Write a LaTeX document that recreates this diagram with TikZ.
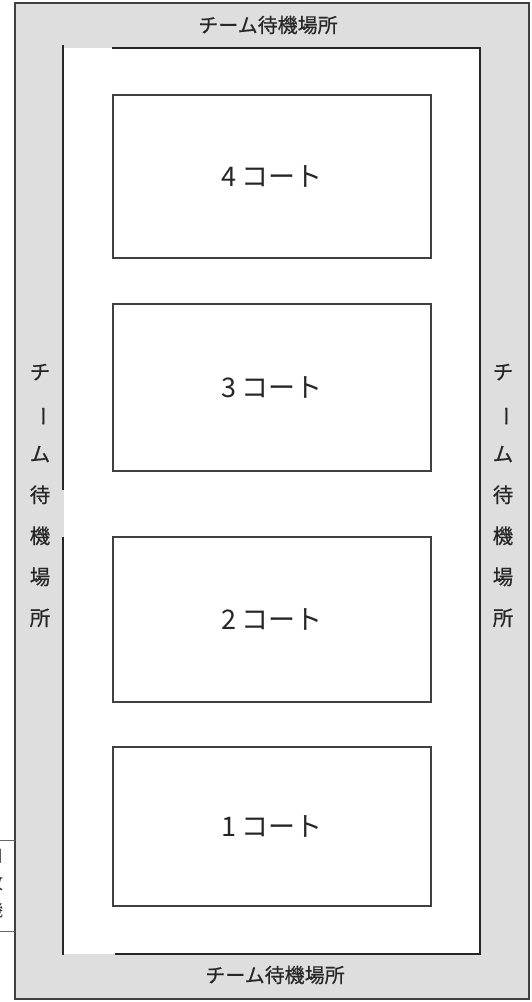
\documentclass[tikz,border=0pt]{standalone}
\usepackage{fontspec}
\usepackage{graphicx}
\newfontfamily\jp{Noto Sans CJK JP}
\newfontfamily\jpb{Noto Sans CJK JP}[FakeBold=0.5]
\begin{document}
\begin{tikzpicture}[x=1pt,y=-1pt,
  outerline/.style={draw=black!75, line width=1.3pt},
  innerline/.style={draw=black!85, line width=2pt},
  court/.style={draw=black!75, line width=1.1pt, rectangle, minimum width=318pt,
    inner sep=0pt, font=\jp\fontsize{27}{27}\selectfont, text=black!85},
  waith/.style={font=\jpb\fontsize{20}{20}\selectfont, text=black!85, inner sep=0pt},
  waitv/.style={font=\jpb\fontsize{20.5}{41}\selectfont, text=black!85, inner sep=0pt, align=center},
  frag/.style={font=\jp\fontsize{18}{18}\selectfont, text=black!85, inner sep=0pt}]
\useasboundingbox (0,0) rectangle (532,1002);
\fill[white] (0,0) rectangle (532,1002);
% waiting band (gray) and playing floor (white)
\fill[black!13] (15,3) rectangle (529,999);
\fill[white] (64,48) rectangle (480,954);
\draw[outerline] (15,3) rectangle (529,999);
% inner boundary lines
\coordinate (tl) at (112,48);
\coordinate (tr) at (480,48);
\coordinate (br) at (480,954);
\coordinate (bl) at (115,954);
\coordinate (la) at (63,45);
\coordinate (lb) at (63,490);
\coordinate (lc) at (63,537);
\coordinate (ld) at (63,955);
\draw[innerline] (tl) -- (tr) -- (br) -- (bl);
\draw[innerline] (la) -- (lb);
\draw[innerline] (lc) -- (ld);
% courts
\node[court, minimum height=163pt] (c4) at (272,176.5) {4\,コート};
\node[court, minimum height=167pt] (c3) at (272,387.5) {3\,コート};
\node[court, minimum height=165pt] (c2) at (272,619.5) {2\,コート};
\node[court, minimum height=159pt] (c1) at (272,826.5) {1\,コート};
% waiting area labels
\node[waith] (wt) at (268,25) {チーム待機場所};
\node[waith] (wb) at (275,975) {チーム待機場所};
\node[waitv] (wl) at (40,495.5) {チ\\\rotatebox[origin=c]{-90}{ー}\\ム\\待\\機\\場\\所};
\node[waitv] (wr) at (503,495.5) {チ\\\rotatebox[origin=c]{-90}{ー}\\ム\\待\\機\\場\\所};
% fragment of a neighbouring box at the left edge
\coordinate (fa) at (0,840);
\coordinate (fb) at (15,840);
\coordinate (fc) at (0,931);
\coordinate (fd) at (15,931);
\draw[draw=black!60, line width=0.9pt] (fa) -- (fb);
\draw[draw=black!60, line width=0.9pt] (fc) -- (fd);
\begin{scope}
\clip (0,0) rectangle (14,1002);
\node[frag] (f1) at (-6,856) {口};
\node[frag] (f2) at (-6,883) {放};
\node[frag] (f3) at (-6,910) {機};
\end{scope}
\end{tikzpicture}
\end{document}
